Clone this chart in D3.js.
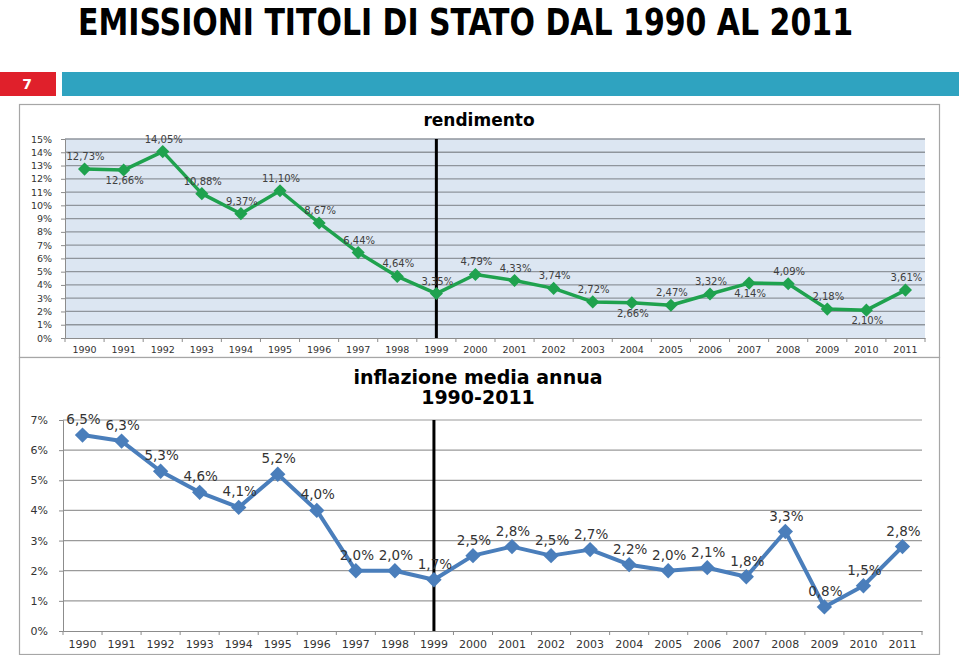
<!DOCTYPE html>
<html>
<head>
<meta charset="utf-8">
<script src="https://cdn.jsdelivr.net/npm/d3@7/dist/d3.min.js"></script>
<style>
  html, body { margin: 0; padding: 0; background: #ffffff; }
  svg { display: block; }
</style>
</head>
<body>
<svg id="chart" width="959" height="655"></svg>
<script>
// ---- data ----
const years = ["1990","1991","1992","1993","1994","1995","1996","1997","1998","1999","2000",
               "2001","2002","2003","2004","2005","2006","2007","2008","2009","2010","2011"];
const rendimento = [12.73, 12.66, 14.05, 10.88, 9.37, 11.10, 8.67, 6.44, 4.64, 3.35, 4.79,
                    4.33, 3.74, 2.72, 2.66, 2.47, 3.32, 4.14, 4.09, 2.18, 2.10, 3.61];
const rendimentoLabelSide = ["up","down","up","up","up","up","up","up","up","up","up",
                             "up","up","up","down","up","up","down","up","up","down","up"];
const inflazione = [6.5, 6.3, 5.3, 4.6, 4.1, 5.2, 4.0, 2.0, 2.0, 1.7, 2.5,
                    2.8, 2.5, 2.7, 2.2, 2.0, 2.1, 1.8, 3.3, 0.8, 1.5, 2.8];
const rendimentoTicks = [0,1,2,3,4,5,6,7,8,9,10,11,12,13,14,15];
const inflazioneTicks = [0,1,2,3,4,5,6,7];
const markerYear = "1999";
const pageTitle = "EMISSIONI TITOLI DI STATO DAL 1990 AL 2011";
const slideNumber = "7";
const title1 = ["rendimento"];
const title2 = ["inflazione media annua", "1990-2011"];

const svg = d3.select("#chart");
const fmt1 = v => v.toFixed(1).replace(".", ",") + "%";
const fmt2 = v => v.toFixed(2).replace(".", ",") + "%";
const diamondType = d3.symbolDiamond2 || d3.symbolDiamond;

// ---- header ----
svg.append("text")
  .attr("x", 78).attr("y", 35)
  .attr("textLength", 775).attr("lengthAdjust", "spacingAndGlyphs")
  .style("font-family", "'Liberation Sans Narrow','DejaVu Sans Condensed','Arial Narrow',sans-serif")
  .style("font-weight", "bold").style("font-size", "37px").style("fill", "#000")
  .text(pageTitle);

svg.append("rect").attr("x", 0).attr("y", 72).attr("width", 56).attr("height", 24).attr("fill", "#e0202b");
svg.append("rect").attr("x", 62).attr("y", 72).attr("width", 897).attr("height", 24).attr("fill", "#2fa3c0");
svg.append("text").attr("x", 27).attr("y", 89).attr("text-anchor", "middle")
  .style("font-family", "'DejaVu Sans',sans-serif").style("font-weight", "bold")
  .style("font-size", "14px").style("fill", "#fff").text(slideNumber);

// ---- generic chart ----
function drawChart(cfg) {
  const g = svg.append("g");
  // panel border
  g.append("rect").attr("x", cfg.panel[0] + 0.5).attr("y", cfg.panel[1] + 0.5)
    .attr("width", cfg.panel[2]).attr("height", cfg.panel[3])
    .attr("fill", "#fff").attr("stroke", "#a6a6a6").attr("stroke-width", 1.2);

  const x = d3.scaleBand().domain(years).range([cfg.left, cfg.right]).padding(0);
  const y = d3.scaleLinear().domain([0, d3.max(cfg.ticks)]).range([cfg.bottom, cfg.top]);

  if (cfg.plotBg) {
    g.append("rect").attr("x", cfg.left).attr("y", cfg.top)
      .attr("width", cfg.right - cfg.left).attr("height", cfg.bottom - cfg.top)
      .attr("fill", cfg.plotBg);
  }
  // gridlines
  g.append("g").selectAll("line").data(cfg.ticks.filter(t => t > 0)).join("line")
    .attr("x1", cfg.left).attr("x2", cfg.right)
    .attr("y1", d => y(d)).attr("y2", d => y(d))
    .attr("stroke", cfg.gridColor).attr("stroke-width", cfg.gridWidth);

  // y axis
  const ya = g.append("g").attr("transform", `translate(${cfg.left},0)`)
    .call(d3.axisLeft(y).tickValues(cfg.ticks).tickFormat(d => d + "%").tickSize(4).tickPadding(cfg.yPad));
  ya.select(".domain").attr("stroke", "#8c8c8c");
  ya.selectAll(".tick line").attr("stroke", "#8c8c8c");
  ya.selectAll("text").style("font-family", "'DejaVu Sans',sans-serif")
    .style("font-size", cfg.axisFont + "px").style("fill", "#333");

  // x axis
  const xa = g.append("g").attr("transform", `translate(0,${cfg.bottom})`)
    .call(d3.axisBottom(x).tickSize(0).tickPadding(cfg.xPad));
  xa.select(".domain").attr("stroke", "#8c8c8c");
  xa.selectAll("text").style("font-family", "'DejaVu Sans',sans-serif")
    .style("font-size", cfg.axisFont + "px").style("fill", "#333");
  // category boundary ticks
  const bounds = years.map(d => x(d)).concat([x(years[years.length - 1]) + x.bandwidth()]);
  g.append("g").selectAll("line").data(bounds).join("line")
    .attr("x1", d => d).attr("x2", d => d)
    .attr("y1", cfg.bottom).attr("y2", cfg.bottom + 4)
    .attr("stroke", "#8c8c8c");

  // vertical marker line
  const cx = d => x(d) + x.bandwidth() / 2;
  g.append("line").attr("x1", cx(markerYear)).attr("x2", cx(markerYear))
    .attr("y1", cfg.top).attr("y2", cfg.bottom)
    .attr("stroke", "#000").attr("stroke-width", 3);

  // line
  const line = d3.line().x((d, i) => cx(years[i])).y(d => y(d));
  g.append("path").datum(cfg.values).attr("d", line)
    .attr("fill", "none").attr("stroke", cfg.color).attr("stroke-width", cfg.lineWidth)
    .attr("stroke-linejoin", "round");

  // markers
  g.append("g").selectAll("path").data(cfg.values).join("path")
    .attr("transform", (d, i) => `translate(${cx(years[i])},${y(d)})`)
    .attr("d", d3.symbol().type(diamondType).size(cfg.markerSize))
    .attr("fill", cfg.color);

  // labels
  g.append("g").selectAll("text").data(cfg.values).join("text")
    .attr("x", (d, i) => cx(years[i]) + 1)
    .attr("y", (d, i) => y(d) + ((cfg.sides && cfg.sides[i] === "down") ? cfg.downOff : -cfg.upOff))
    .attr("text-anchor", "middle").attr("dominant-baseline", "middle")
    .style("font-family", "'DejaVu Sans',sans-serif")
    .style("font-size", cfg.labelFont + "px").style("fill", cfg.labelColor)
    .text(d => cfg.fmt(d));

  // title
  g.append("g").selectAll("text").data(cfg.title).join("text")
    .attr("x", cfg.titleX).attr("y", (d, i) => cfg.titleY + i * cfg.titleStep)
    .attr("text-anchor", "middle").attr("dominant-baseline", "middle")
    .style("font-family", "'DejaVu Sans',sans-serif").style("font-weight", "bold")
    .style("font-size", cfg.titleFont + "px").style("fill", "#000")
    .text(d => d);
}

drawChart({
  panel: [19, 104, 920, 253],
  left: 65, right: 925, top: 139, bottom: 338,
  ticks: rendimentoTicks, values: rendimento, sides: rendimentoLabelSide,
  plotBg: "#dce6f2", gridColor: "#8f959c", gridWidth: 1.3,
  color: "#1fa24e", lineWidth: 3.5, markerSize: 110,
  axisFont: 9.5, yPad: 9, xPad: 8,
  labelFont: 10, labelColor: "#404040", upOff: 12, downOff: 11, fmt: fmt2,
  title: title1, titleX: 479, titleY: 121, titleStep: 0, titleFont: 17
});

drawChart({
  panel: [19, 357, 920, 297],
  left: 63, right: 922, top: 420, bottom: 631,
  ticks: inflazioneTicks, values: inflazione, sides: null,
  plotBg: null, gridColor: "#9a9a9a", gridWidth: 1.2,
  color: "#4a7ebb", lineWidth: 4, markerSize: 150,
  axisFont: 11, yPad: 11, xPad: 9,
  labelFont: 13.5, labelColor: "#333", upOff: 15, downOff: 15, fmt: fmt1,
  title: title2, titleX: 478, titleY: 378, titleStep: 20, titleFont: 19
});
</script>
</body>
</html>
